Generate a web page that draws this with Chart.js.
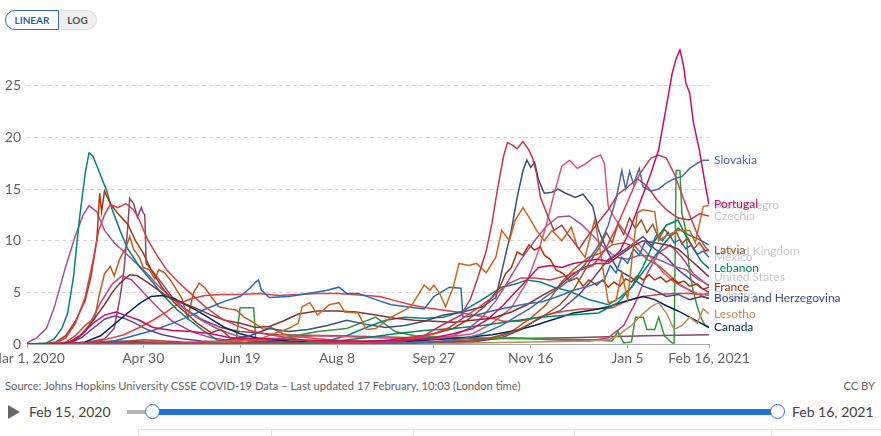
<!DOCTYPE html>
<html>
<head>
<meta charset="utf-8">
<script src="https://cdn.jsdelivr.net/npm/chart.js@4.4.1/dist/chart.umd.min.js"></script>
<style>
  html,body{margin:0;padding:0;background:#fff;}
  body{width:881px;height:436px;position:relative;overflow:hidden;font-family:Lato,"Noto Sans",sans-serif;}
  #c{position:absolute;left:0;top:0;}
  .toggle{position:absolute;left:5px;top:10px;display:flex;height:20px;font-size:10px;font-weight:bold;}
  .toggle div{display:flex;align-items:center;justify-content:center;box-sizing:border-box;height:20px;}
  .lin{width:54px;border:1px solid #2d6fc5;border-radius:10px 0 0 10px;color:#2a62b0;background:#fff;}
  .log{width:38px;border:1px solid #ddd;border-left:none;border-radius:0 10px 10px 0;color:#555;background:#efefef;font-weight:bold;}
  .source{position:absolute;left:5px;top:379px;font-size:11.2px;color:#666;}
  .ccby{position:absolute;right:6px;top:379px;font-size:11.2px;color:#666;}
  .play{position:absolute;left:8px;top:405px;width:0;height:0;border-left:12px solid #666;border-top:7px solid transparent;border-bottom:7px solid transparent;}
  .d1{position:absolute;left:29px;top:403px;font-size:14px;color:#444;}
  .d2{position:absolute;left:792px;top:403px;font-size:14px;color:#444;}
  .grey{position:absolute;left:127px;top:410px;width:26px;height:4px;background:#b5b5b5;}
  .blue{position:absolute;left:152px;top:409px;width:625px;height:6px;background:#1f6fd8;}
  .h{position:absolute;width:15px;height:15px;border-radius:50%;background:#fff;border:1px solid #2a6fcf;box-sizing:border-box;top:404px;}
  .row{position:absolute;left:138px;top:429px;width:743px;height:1px;background:#e4e4e4;}
  .sep{position:absolute;top:429px;width:1px;height:7px;background:#e4e4e4;}
</style>
</head>
<body>
<div class="toggle"><div class="lin">LINEAR</div><div class="log">LOG</div></div>
<canvas id="c" width="881" height="375"></canvas>
<div class="source">Source: Johns Hopkins University CSSE COVID-19 Data – Last updated 17 February, 10:03 (London time)</div>
<div class="ccby">CC BY</div>
<div class="play"></div>
<div class="d1">Feb 15, 2020</div>
<div class="grey"></div>
<div class="blue"></div>
<div class="h" style="left:145px"></div>
<div class="h" style="left:770px"></div>
<div class="d2">Feb 16, 2021</div>
<div class="row"></div>
<div class="sep" style="left:138px"></div>
<div class="sep" style="left:271px"></div>
<div class="sep" style="left:413px"></div>
<div class="sep" style="left:574px"></div>
<div class="sep" style="left:771px"></div>
<script>
// ---- Data: x = days since Mar 1, 2020; y = daily new deaths per million (7-day avg) ----
const tickDays = [0, 60, 110, 160, 210, 260, 310, 352];
const tickLabels = ["Mar 1, 2020", "Apr 30", "Jun 19", "Aug 8", "Sep 27", "Nov 16", "Jan 5", "Feb 16, 2021"];
const yTicks = [0, 5, 10, 15, 20, 25];

const spain = [[0,0],[10,0.1],[14,0.5],[18,1.5],[21,3],[24,6.5],[27,12],[30,16.5],[32,18.5],[34,18.2],[37,16.8],[41,14.9],[44,13],[48,11],[52,9.2],[58,7.5],[63,6.4],[70,4.8],[77,3.4],[84,2.3],[91,1.3],[98,0.4],[105,0.1],[120,0.05],[140,0.1],[155,0.3],[165,0.8],[175,1.6],[185,2.3],[195,2.6],[205,2.5],[215,2.6],[225,3.2],[235,4.3],[245,5.5],[252,5.8],[258,6.2],[265,6],[272,5.5],[280,5.1],[290,4.3],[300,3.8],[306,4.5],[312,5.5],[318,7],[324,8.5],[330,10],[336,11.2],[341,10.6],[346,10.2],[352,9.6]];
const italy = [[0,0.1],[5,0.6],[10,1.5],[14,3.5],[20,7.5],[25,10.5],[29,12.5],[32,13.4],[36,12.8],[40,11],[45,9.8],[52,8.6],[60,7.2],[68,5.6],[75,4.4],[82,3.3],[90,2.3],[98,1.5],[105,1],[112,0.6],[120,0.4],[135,0.25],[150,0.15],[165,0.2],[180,0.25],[195,0.3],[210,0.5],[220,0.8],[228,1.5],[235,2.6],[242,4.2],[248,6],[255,8.2],[262,10],[268,11.4],[274,12.3],[280,12.4],[286,11.6],[292,10.5],[298,9.3],[304,8.4],[310,8.2],[316,8.6],[322,8.5],[328,8],[334,7.5],[340,7.2],[346,6.3],[352,5.7]];
const unitedKingdom = [[0,0],[10,0],[15,0.1],[20,0.6],[25,2],[30,4.5],[34,8],[37,11],[40,12.5],[43,13.5],[47,13.2],[51,13.6],[55,13],[58,12],[62,10.2],[67,8.6],[72,7.2],[78,6],[85,4.8],[92,3.6],[100,2.5],[108,1.8],[115,1.3],[125,0.9],[135,0.6],[145,0.3],[160,0.2],[175,0.15],[190,0.3],[200,0.6],[210,1],[218,1.6],[225,2.5],[232,3.4],[240,4.5],[248,5.8],[255,6.4],[262,6.4],[270,6.2],[278,6.6],[285,7.1],[292,7.6],[298,9],[304,11.2],[310,13.8],[316,16.4],[322,18],[326,18.3],[330,18],[334,16.5],[338,14.5],[342,12.5],[346,10.6],[350,9.4],[352,9]];
const france = [[0,0],[10,0.05],[15,0.2],[20,0.8],[25,2.2],[30,4.2],[33,6.5],[36,10],[37.5,14.6],[38.5,12.8],[40,14.8],[43,13.6],[47,12.6],[52,11.6],[56,10],[60,8.8],[64,7.2],[70,5.4],[76,4],[82,3],[88,2],[95,1.1],[100,1.4],[105,0.6],[115,0.3],[130,0.2],[150,0.15],[170,0.2],[185,0.35],[200,0.7],[210,1],[220,1.5],[228,2.4],[236,3.6],[244,5.5],[247,6.8],[250,7.4],[253,8.9],[256,8.6],[259,9.6],[262,9.1],[265,9.4],[267,8.6],[270,8.2],[273,7.2],[277,6.8],[280,6.1],[284,6.4],[287,5.6],[290,6.2],[294,5.7],[297,6.2],[300,5.5],[303,6],[306,5.6],[309,6.3],[312,6],[315,6.6],[318,6.2],[321,6.7],[324,6.2],[327,6.5],[330,6],[333,6.3],[336,5.9],[339,6.1],[342,5.6],[346,5.8],[349,5.3],[352,5.5]];
const sweden = [[0,0],[15,0],[20,0.2],[25,0.8],[30,1.8],[35,2.5],[37,4.5],[40,6.8],[43,7.5],[45,6.6],[48,8.3],[51,9.3],[53,10.4],[55,9.2],[58,8.4],[60,7.4],[63,7.2],[66,6.3],[68,7.2],[71,6.9],[74,6.2],[78,5],[80,4.4],[83,2.5],[86,5],[89,5.9],[92,5.4],[95,4.6],[99,3.6],[104,3.4],[108,3.3],[112,2.6],[116,2.2],[122,1.4],[126,1.6],[132,1],[140,0.7],[150,0.5],[165,0.3],[180,0.2],[200,0.2],[215,0.2],[230,0.3],[240,0.6],[250,1.2],[260,2.5],[268,3.8],[275,5.8],[282,7.2],[290,8.4],[296,8.8],[302,9.6],[308,9.8],[314,9.4],[320,8.2],[326,7.6],[332,6.6],[338,5.6],[344,5],[352,4.4]];
const montenegro = [[0,0],[60,0.1],[100,0.1],[120,0.5],[135,1.5],[140,2],[142,3.6],[146,4],[150,2.8],[156,3.8],[161,4],[164,3.1],[171,3],[175,1.4],[180,1.5],[188,2.6],[198,3.6],[205,5.7],[208,5.2],[210,5.7],[213,4.9],[216,3.6],[220,5.5],[223,7.8],[228,7.6],[232,7.8],[237,6.9],[242,8.4],[245,11],[249,10],[252,12],[256,13.2],[260,12],[263,11],[267,10],[271,11],[276,10],[281,11.3],[284,9.4],[288,8.4],[293,12],[295,10],[300,4],[304,4.2],[307,6.9],[310,4.3],[312,7.8],[315,12.7],[318,13],[324,12.8],[326,10],[330,10.5],[336,11],[342,11],[345,9.8],[349,13.3],[352,13.4]];
const czechia = [[0,0],[30,0.1],[60,0.2],[100,0.05],[150,0.05],[180,0.1],[195,0.3],[205,0.8],[212,1.6],[218,2.2],[224,2.8],[229,4.4],[233,6.6],[237,9],[240,11.7],[243,15.2],[246,18.2],[248,19.5],[251,19.2],[253,18.9],[256,19.6],[259,18.8],[261,18],[263,16.5],[265,14.2],[269,12.3],[272,11],[276,11.5],[280,10.4],[285,9.2],[290,10.6],[295,11.8],[300,13],[305,14.5],[310,15.2],[315,16],[320,15.3],[325,14],[330,13],[336,12.2],[342,12],[347,12.6],[352,12.4]];
const bosnia = [[0,0],[30,0.1],[45,0.3],[60,0.2],[80,0.05],[100,0.3],[115,0.8],[125,1.5],[135,1.2],[145,1.4],[155,1.8],[165,2.3],[175,1.9],[185,1.6],[195,1.8],[205,2.2],[215,2.8],[225,3.1],[235,3.6],[242,4.5],[246,7.8],[250,11],[253,14.2],[256,16.8],[258,17.8],[260,17.1],[262,17.6],[264,15.9],[267,14.6],[271,14.7],[274,15],[278,14.6],[283,14.2],[287,14.5],[292,13.3],[295,11],[300,8.8],[305,7.2],[312,6.4],[318,5.6],[324,5.2],[330,4.6],[336,4.8],[342,4.3],[348,4.6],[352,4.4]];
const mexico = [[0,0],[25,0],[35,0.1],[45,0.3],[55,0.8],[65,1.3],[75,2],[85,2.8],[95,3.6],[103,4.2],[110,4.6],[115,5.4],[118,6],[119.5,6.2],[121,5.2],[125,4.5],[135,4.6],[145,4.9],[155,5.2],[161,5.5],[165,4.9],[171,4.9],[180,4.3],[188,3.8],[196,3.6],[205,3.4],[210,4.6],[218,5.5],[224,5.4],[225,2.6],[232,2.8],[240,3.2],[250,3.6],[258,3.9],[266,4.1],[274,4.6],[282,5.2],[290,5.6],[298,6.2],[301,7.6],[304,6.9],[307,8.4],[310,7.8],[313,9.2],[316,8.6],[319,9.9],[322,9.4],[325,10.6],[328,10],[331,10.8],[334,9.8],[337,10.1],[340,9.2],[343,9.6],[346,8.7],[349,9],[352,8.4]];
const brazil = [[0,0],[20,0],[30,0.1],[40,0.4],[50,0.9],[58,1.6],[65,2.3],[72,3.1],[78,3.9],[85,4.4],[92,4.7],[100,4.8],[110,4.8],[120,4.9],[130,4.7],[140,4.8],[150,4.9],[160,4.9],[168,4.8],[175,4.7],[182,4.6],[190,4.2],[198,3.8],[206,3.5],[214,3.3],[222,3.1],[230,2.8],[238,2.6],[246,2.2],[254,2.2],[262,2.5],[270,2.9],[278,3.2],[286,3.4],[294,3.4],[302,3.5],[310,4.2],[318,4.6],[326,4.8],[334,4.9],[342,4.9],[348,4.8],[352,4.9]];
const unitedStates = [[0,0],[15,0],[20,0.1],[25,0.4],[30,1.2],[35,2.5],[40,3.8],[44,5],[48,5.9],[53,6.7],[57,6.6],[62,6],[68,5.2],[74,4.4],[80,4],[88,3.4],[95,2.8],[102,2.3],[110,2],[118,1.6],[125,1.7],[132,2.2],[140,2.9],[150,3.2],[160,3.2],[170,3.1],[180,2.8],[190,2.5],[200,2.3],[210,2.2],[220,2.1],[230,2.3],[240,2.5],[250,3.1],[258,3.8],[266,4.7],[274,5.5],[280,6.5],[287,7.4],[294,7.8],[300,7.8],[306,8.6],[312,9.4],[318,10],[324,9.8],[330,9.6],[336,9.2],[342,8.2],[348,7.2],[352,6.5]];
const canada = [[0,0],[20,0],[30,0.2],[38,0.8],[45,1.9],[52,3],[58,3.9],[64,4.6],[70,4.7],[76,4.4],[82,3.8],[88,3.2],[95,2.4],[102,1.6],[110,1],[120,0.5],[135,0.3],[150,0.2],[170,0.15],[190,0.2],[210,0.4],[225,0.6],[240,0.9],[252,1.3],[262,1.8],[272,2.4],[282,3],[292,3.3],[300,3.6],[308,4.1],[314,4.4],[318,4.6],[324,4.3],[330,3.7],[336,3.2],[342,2.6],[348,2],[352,1.6]];
const portugal = [[0,0],[18,0],[22,0.2],[28,0.9],[34,2],[40,2.8],[46,3.1],[52,2.7],[58,2.3],[65,1.6],[75,1.3],[85,1.2],[95,1],[105,0.6],[120,0.5],[140,0.4],[160,0.3],[180,0.3],[200,0.4],[210,0.6],[220,1],[230,1.5],[238,2.4],[246,3.8],[252,5],[258,6.2],[264,7.4],[270,7.6],[276,7.4],[282,7.8],[288,8],[294,8.2],[300,8],[306,9],[310,10.5],[314,12.5],[318,14.5],[322,16.5],[326,18.8],[330,23],[333,26.2],[335,27.6],[337,28.5],[339,26.8],[340,25.3],[342,24.3],[344,21.4],[347,18.8],[350,15.5],[352,13.5]];
const latvia = [[0,0],[40,0.1],[60,0.4],[80,0.2],[100,0.1],[150,0.05],[200,0.1],[230,0.3],[245,0.8],[255,1.5],[265,2.5],[275,3.8],[282,5.2],[290,7.8],[296,9.5],[299,10.8],[302,9.8],[305,11.6],[308,10.6],[311,12.2],[314,11.2],[317,12],[320,10.8],[323,11.6],[326,10.2],[329,11.1],[332,10.4],[335,10.9],[338,9.7],[341,10.3],[344,9.2],[347,9.8],[350,9],[352,9.1]];
const lebanon = [[0,0],[100,0],[140,0.1],[160,0.3],[175,0.6],[190,1],[205,1.3],[220,1.5],[235,1.8],[250,2.2],[265,2.6],[280,2.8],[295,3],[305,4],[312,5.5],[318,7.5],[324,10],[330,11.5],[336,12],[340,10.5],[344,9.2],[348,8],[352,7.3]];
const lesotho = [[0,0],[200,0],[230,0.1],[260,0.2],[290,0.3],[300,0.4],[305,0.8],[309,1.4],[312,1.8],[316,2.6],[322,3.6],[326,4],[330,3],[334,1.4],[338,1.8],[342,2.6],[346,2],[349,3.4],[352,2.9]];
const slovakia = [[0,0],[40,0.05],[100,0.02],[180,0.05],[210,0.2],[225,0.5],[235,1],[245,1.8],[252,2.6],[260,3.5],[268,4.6],[276,5.6],[284,6.8],[290,8.2],[296,9.8],[300,11.5],[304,14],[307,16.8],[309,15],[311,16.7],[313,15.5],[316,17],[318,15.2],[322,14.8],[326,15],[330,15.6],[334,16],[338,16.2],[342,17],[346,17.5],[349,17.8],[352,17.8]];
const bulgaria = [[0,0],[40,0.1],[80,0.1],[120,0.4],[150,0.8],[180,0.6],[210,0.5],[230,1],[240,2],[250,3.5],[258,6],[264,9],[268,11.5],[272,14.5],[276,17.2],[280,17.8],[284,17],[288,17.4],[292,18],[296,18.3],[298,17.5],[300,13.3],[304,12],[310,10.5],[316,9.6],[322,8.4],[328,7],[334,6],[340,5.4],[346,4.9],[352,4.7]];
const eswatini = [[0,0],[100,0],[108,0.5],[110,3.5],[117,3.5],[118,0.6],[130,0.5],[150,1.2],[165,1.5],[180,2.6],[190,1.2],[200,0.8],[230,0.6],[260,0.5],[290,0.4],[302,0.3],[305,1.2],[308,0.1],[312,0.2],[314,2.6],[318,2.6],[320,1.4],[324,1.4],[326,2.6],[329,0.8],[333,0.1],[334,0.1],[335,16.8],[337,16.8],[338,12.7],[340,11],[342,7],[344,5],[346,3.6],[348,2.5],[350,1.8],[352,1.6]];
const germany = [[0,0],[15,0],[22,0.1],[28,0.6],[34,1.5],[40,2.4],[45,2.7],[50,2.5],[56,2],[62,1.4],[70,0.9],[80,0.5],[90,0.3],[110,0.1],[150,0.05],[200,0.1],[230,0.2],[245,0.6],[255,1.4],[265,2.6],[275,3.2],[285,4.8],[292,6.3],[300,8.2],[306,8.8],[312,9.6],[318,10.4],[324,9.2],[330,8.4],[336,7.2],[342,6.3],[348,5.4],[352,5]];
const ireland = [[0,0],[18,0],[25,0.3],[32,1.8],[38,4],[44,5.8],[49,6.6],[54,6.2],[60,5],[67,3.6],[75,2.2],[85,1.2],[95,0.6],[110,0.2],[150,0.05],[200,0.1],[230,0.4],[250,0.6],[270,0.4],[290,0.3],[300,0.6],[308,1.8],[314,4],[320,6.8],[326,8.8],[332,9.6],[338,8.4],[344,6.8],[352,5.6]];
const ecuador = [[0,0],[30,0.1],[40,0.5],[45,1.5],[48,4.5],[50,7],[52,11.3],[53,14.1],[55,13.6],[57,12.3],[59,13.2],[60,12.7],[60.8,12.5],[61.5,7.8],[65,7],[70,5.8],[75,4.5],[80,3.6],[90,2.4],[100,1.6],[110,1.2],[130,0.9],[160,0.8],[200,0.6],[240,0.5],[280,0.6],[320,0.8],[352,0.9]];

const countries = ["Portugal","Slovakia","United Kingdom","Czechia","Montenegro","Latvia","Mexico","Lebanon","United States","France","Bulgaria","Bosnia and Herzegovina","Lesotho","Canada","Spain","Italy","Sweden","Brazil","Eswatini","Germany","Ireland","Ecuador"];
const seriesValues = [portugal, slovakia, unitedKingdom, czechia, montenegro, latvia, mexico, lebanon, unitedStates, france, bulgaria, bosnia, lesotho, canada, spain, italy, sweden, brazil, eswatini, germany, ireland, ecuador];
const lineColors = ["#CF0A66","#4C6A9C","#D73C50","#C8344A","#C8691C","#9A5129","#286BBB","#00875E","#883039","#B13507","#E0507A","#3A4E80","#BC8E5A","#00295B","#00847E","#A2559C","#C05917","#E63E3E","#2F9A3A","#6D3E91","#C2417E","#8C4569"];
const labelledCountries = ["Slovakia","Portugal","Latvia","Lebanon","France","Bosnia and Herzegovina","Lesotho","Canada"];
const fadedCountries = ["Montenegro","Czechia","United Kingdom","Mexico","United States","Bulgaria"];

const endLabels = {
  id: 'endLabels',
  afterDatasetsDraw(chart) {
    const ctx = chart.ctx;
    const x = chart.chartArea.right + 5;
    ctx.save();
    ctx.font = '12px Lato';
    ctx.textBaseline = 'middle';
    ctx.textAlign = 'left';
    const draw = (list, faded) => {
      chart.data.datasets.forEach((ds, i) => {
        if (!list.includes(ds.label)) return;
        const meta = chart.getDatasetMeta(i);
        const pt = meta.data[meta.data.length - 1];
        ctx.fillStyle = faded ? '#c9c9c9' : ds.borderColor;
        ctx.fillText(ds.label, x, pt.y);
      });
    };
    draw(fadedCountries, true);
    draw(labelledCountries, false);
    ctx.restore();
  }
};

new Chart(document.getElementById('c'), {
  type: 'line',
  data: {
    datasets: countries.map((name, i) => ({
      label: name,
      data: seriesValues[i].map(([d, v]) => ({ x: d, y: v })),
      borderColor: lineColors[i],
      backgroundColor: lineColors[i],
      borderWidth: 1.5,
      pointRadius: 0,
      tension: 0,
      fill: false
    }))
  },
  options: {
    responsive: false,
    animation: false,
    layout: { padding: { top: 48.6, right: 172, left: 0, bottom: 0 } },
    plugins: { legend: { display: false }, tooltip: { enabled: false } },
    scales: {
      x: {
        type: 'linear',
        min: 0,
        max: 352,
        afterBuildTicks: (s) => { s.ticks = tickDays.map(v => ({ value: v })); },
        afterFit: (s) => { s.height = 31; s.paddingLeft = 0; s.paddingRight = 0; },
        ticks: {
          autoSkip: false,
          maxRotation: 0,
          padding: 2,
          color: '#666',
          font: { family: 'Lato', size: 14 },
          callback: (v) => { const k = tickDays.indexOf(v); return k >= 0 ? tickLabels[k] : ''; }
        },
        grid: { display: true, drawOnChartArea: false, drawTicks: true, tickLength: 4, color: '#aaa' },
        border: { display: true, color: '#aaa', width: 1 }
      },
      y: {
        min: 0,
        max: 28.6,
        afterBuildTicks: (s) => { s.ticks = yTicks.map(v => ({ value: v })); },
        afterFit: (s) => { s.width = 27; s.paddingTop = 0; s.paddingBottom = 0; },
        ticks: { padding: 6, color: '#666', font: { family: 'Lato', size: 14 } },
        grid: { drawTicks: false, color: (c) => (c.tick && c.tick.value === 0) ? 'rgba(0,0,0,0)' : '#d6d6d6', lineWidth: 1 },
        border: { display: false, dash: [4, 3] }
      }
    }
  },
  plugins: [endLabels]
});
</script>
</body>
</html>
